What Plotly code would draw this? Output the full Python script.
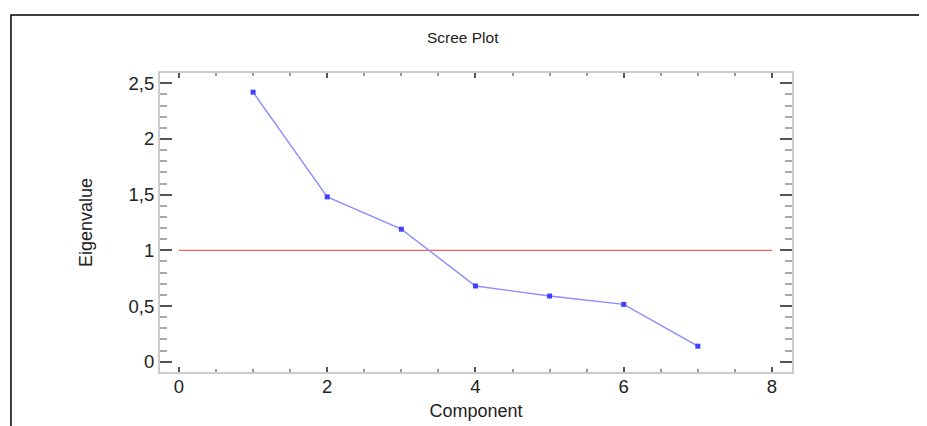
import plotly.graph_objects as go

components = [1, 2, 3, 4, 5, 6, 7]
eigenvalues = [2.42, 1.48, 1.19, 0.68, 0.59, 0.515, 0.14]
ref_x = [0, 8]
ref_y = [1, 1]
x_ticks = [0, 2, 4, 6, 8]
x_ticktext = ["0", "2", "4", "6", "8"]
y_ticks = [0, 0.5, 1, 1.5, 2, 2.5]
y_ticktext = ["0", "0,5", "1", "1,5", "2", "2,5"]

FONT = "Liberation Sans"

fig = go.Figure()
fig.add_trace(go.Scatter(x=ref_x, y=ref_y, mode="lines",
                         line=dict(color="#ff5c5c", width=1.4), showlegend=False))
fig.add_trace(go.Scatter(x=components, y=eigenvalues, mode="lines+markers",
                         line=dict(color="#8c8cff", width=1.4),
                         marker=dict(color="#4040ff", size=5, symbol="square"),
                         showlegend=False))

axis_common = dict(showline=True, linecolor="#cccccc", linewidth=2, mirror="allticks",
                   showgrid=False, zeroline=False, tickcolor="#555555",
                   tickfont=dict(family=FONT, size=18.5, color="#222222"))

fig.update_xaxes(range=[-0.256, 8.27], tickvals=x_ticks, ticktext=x_ticktext,
                 ticks="inside", ticklen=5, tickwidth=1.5,
                 minor=dict(ticks="inside", ticklen=3, dtick=0.5, tickcolor="#999999",
                            tickwidth=1.5),
                 ticklabelstandoff=-3,
                 title=dict(text="Component", standoff=8,
                            font=dict(family=FONT, size=18, color="#222222")),
                 **axis_common)
fig.update_yaxes(range=[-0.092, 2.592], tickvals=y_ticks, ticktext=y_ticktext,
                 ticks="inside", ticklen=12, tickwidth=2,
                 minor=dict(ticks="inside", ticklen=7, dtick=0.1, tickcolor="#aaaaaa",
                            tickwidth=2),
                 ticklabelstandoff=0,
                 title=dict(text="Eigenvalue", standoff=31,
                            font=dict(family=FONT, size=18, color="#222222")),
                 **axis_common)

fig.update_layout(
    width=927, height=426,
    margin=dict(l=152, r=143, t=65, b=62),
    paper_bgcolor="white", plot_bgcolor="white",
    title=dict(text="Scree Plot", x=0.479, xref="paper", xanchor="center",
               y=1 - 30 / 426, yanchor="middle",
               font=dict(family=FONT, size=15.5, color="#222222")),
    shapes=[dict(type="path", xref="paper", yref="paper",
                 path="M -0.2358,-0.3 L -0.2358,1.194 L 1.3,1.194",
                 line=dict(color="black", width=1.5))],
)

fig.write_html("out.html")
